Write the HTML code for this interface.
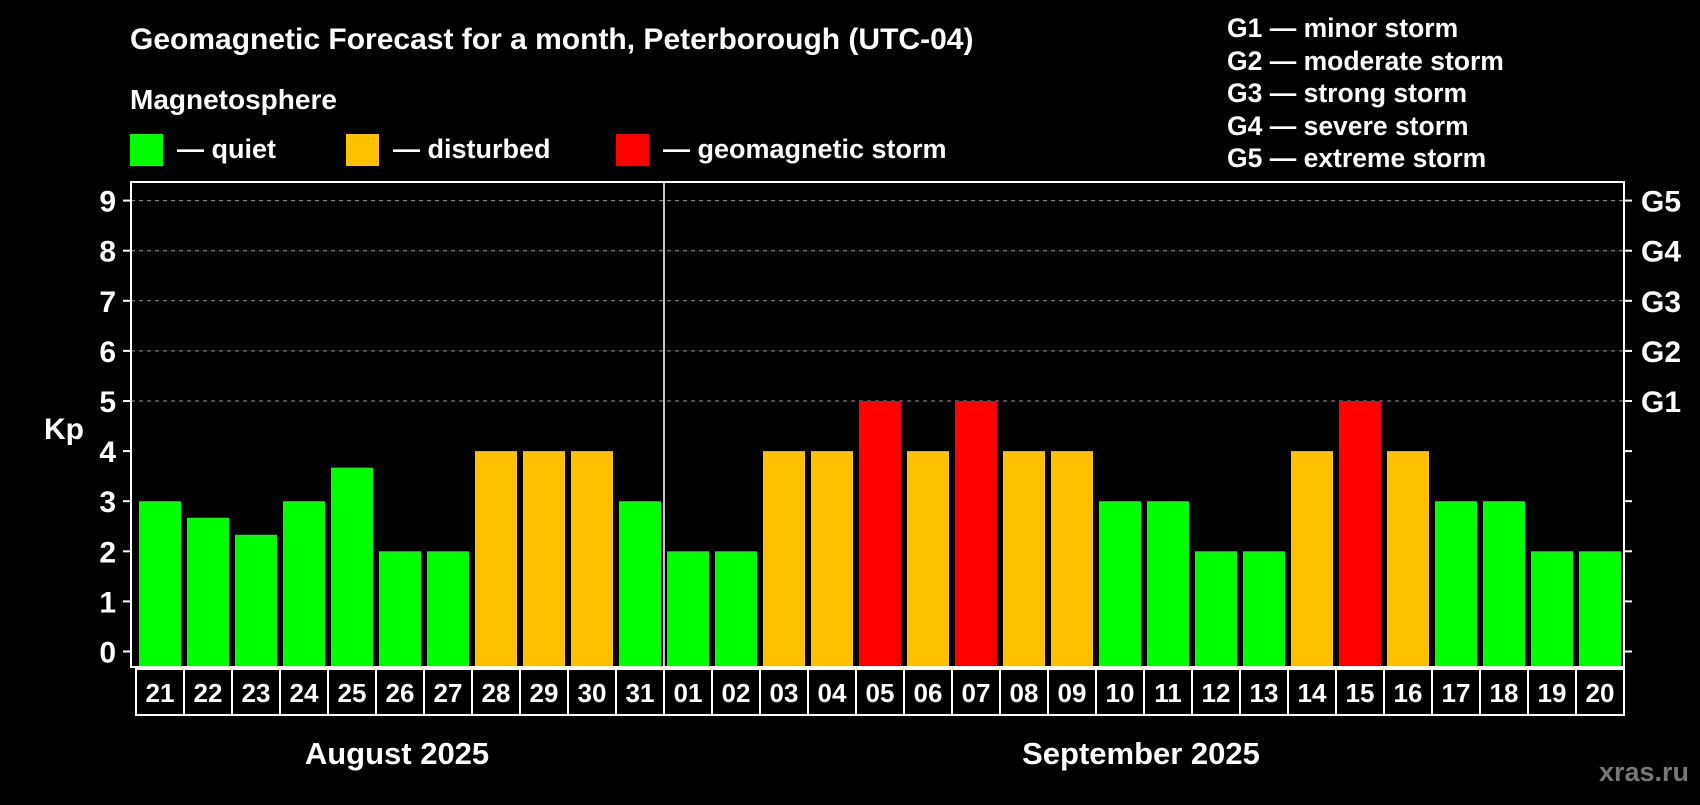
<!DOCTYPE html>
<html><head><meta charset="utf-8"><style>
body{margin:0;background:#000;width:1700px;height:800px;overflow:hidden;font-family:"Liberation Sans",sans-serif;font-weight:bold;color:#fff}
svg text{font-family:"Liberation Sans",sans-serif;font-weight:bold;fill:#fff}
</style></head><body>
<svg id="c" width="1700" height="800">
<text x="130" y="49" font-size="30">Geomagnetic Forecast for a month, Peterborough (UTC-04)</text>
<text x="130" y="109" font-size="28">Magnetosphere</text>
<rect x="130" y="134" width="33" height="32" fill="#00ff00"/>
<text x="177" y="158" font-size="27">— quiet</text>
<rect x="346" y="134" width="33" height="32" fill="#ffc000"/>
<text x="393" y="158" font-size="27">— disturbed</text>
<rect x="616" y="134" width="33" height="32" fill="#ff0000"/>
<text x="663" y="158" font-size="27">— geomagnetic storm</text>
<g font-size="26.5">
<text x="1227" y="37">G1 — minor storm</text>
<text x="1227" y="70">G2 — moderate storm</text>
<text x="1227" y="102">G3 — strong storm</text>
<text x="1227" y="135">G4 — severe storm</text>
<text x="1227" y="167">G5 — extreme storm</text>
</g>
<text x="64" y="439" font-size="30" text-anchor="middle">Kp</text>
<text x="397" y="764" font-size="31" text-anchor="middle">August 2025</text>
<text x="1141" y="764" font-size="31" text-anchor="middle">September 2025</text>
<text x="1644" y="781" font-size="27" text-anchor="middle" style="fill:#777">xras.ru</text>
<g id="plot"></g>
</svg>
<script>
const days=["21","22","23","24","25","26","27","28","29","30","31","01","02","03","04","05","06","07","08","09","10","11","12","13","14","15","16","17","18","19","20"];
const kp=[3,2.67,2.33,3,3.67,2,2,4,4,4,3,2,2,4,4,5,4,5,4,4,3,3,2,2,4,5,4,3,3,2,2];
const yTicks=[0,1,2,3,4,5,6,7,8,9];
const gLabels=["G1","G2","G3","G4","G5"];
const NS="http://www.w3.org/2000/svg";
const g=document.getElementById('plot');
const L=131,R=1624,T=182,B=667,y0=651.5,unit=50.1,x0=139,pitch=48,bw=42;
const y=v=>y0-v*unit, x=i=>x0+i*pitch;
function mk(t,a){const e=document.createElementNS(NS,t);for(const k in a)e.setAttribute(k,a[k]);g.appendChild(e);return e;}
yTicks.forEach(v=>{
 if(v>=5){const l=mk('line',{x1:L,x2:R,y1:y(v),y2:y(v),stroke:'#999','stroke-dasharray':'4,4','stroke-width':1});
 
 }
 const t1=mk('line',{x1:L-8,x2:L,y1:y(v),y2:y(v),stroke:'#fff','stroke-width':2});
 
 
 const t2=mk('line',{x1:R,x2:R+8,y1:y(v),y2:y(v),stroke:'#fff','stroke-width':2});
 
 
 const tx=mk('text',{x:116,y:y(v)+11,'font-size':30,'text-anchor':'end'});tx.textContent=v;
 
 
});
gLabels.forEach((s,i)=>{const t=mk('text',{x:1641,y:y(5+i)+11,'font-size':30});t.textContent=s;
 
 });
const col=v=>v>=5?'#ff0000':v>=4?'#ffc000':'#00ff00';
kp.forEach((v,i)=>{
 const r=mk('rect',{x:x(i),y:y(v),width:bw,height:B-y(v),fill:col(v)});
 
 
});
const fr=mk('rect',{x:L,y:T,width:R-L,height:B-T,fill:'none',stroke:'#fff','stroke-width':2});


const dv=mk('line',{x1:x(11)-3,x2:x(11)-3,y1:T,y2:B,stroke:'#fff','stroke-width':1.5});


days.forEach((d,i)=>{
 const c=mk('rect',{x:x(i)-3,y:669,width:pitch,height:46,fill:'none',stroke:'#fff','stroke-width':2});
 
 
 const t=mk('text',{x:x(i)+bw/2,y:702,'font-size':26,'text-anchor':'middle'});t.textContent=d;
 
 
});
</script>
</body></html>
